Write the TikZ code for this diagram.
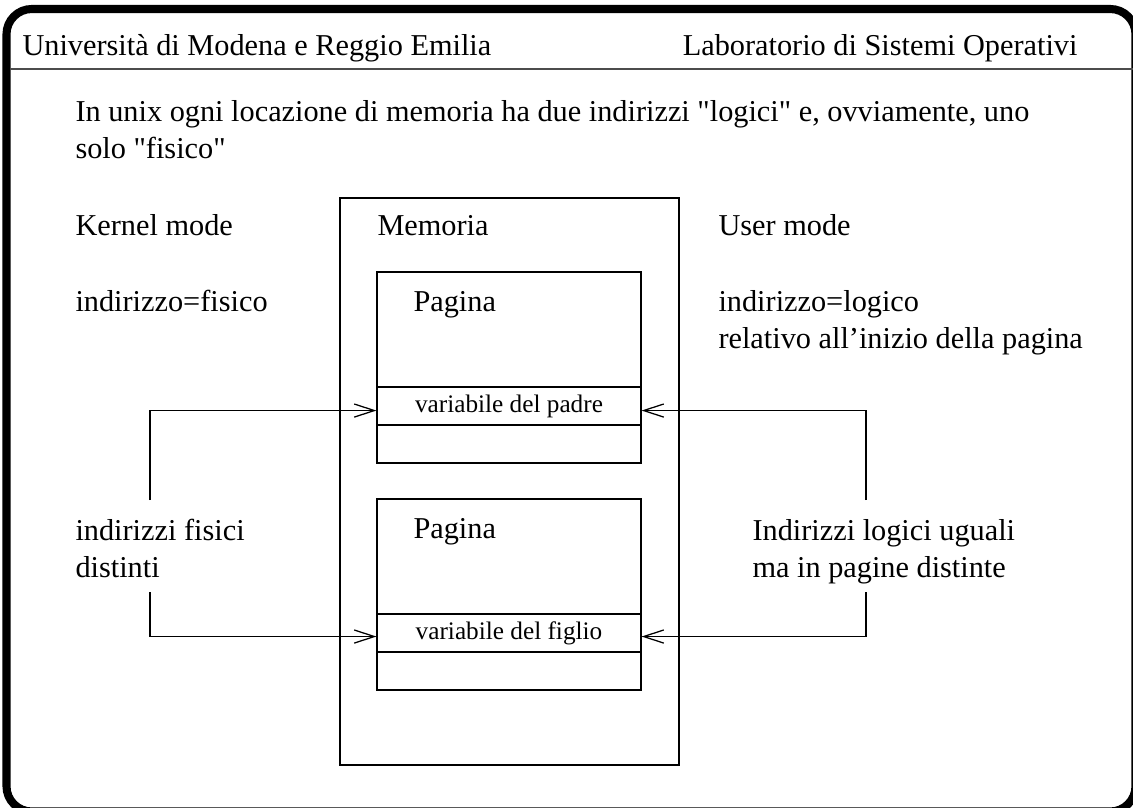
\documentclass[tikz,border=0pt]{standalone}
\usepackage{fontspec}
\setmainfont{Liberation Serif}
\usetikzlibrary{arrows.meta,positioning,calc}

\begin{document}
\begin{tikzpicture}[x=0.396pt,y=-0.396pt,
  txt/.style={anchor=base west,inner sep=0pt,font=\fontsize{12}{14.6}\selectfont,align=left},
  strip/.style={draw,line width=0.5pt,minimum width=104.5pt,minimum height=15pt,inner sep=0pt,font=\fontsize{10}{12}\selectfont},
  arr/.style={-{Straight Barb[length=8pt,width=5.2pt]},line width=0.5pt}]
\useasboundingbox (0,0) rectangle (1133,808);
% frame and header
\draw[line width=3.2pt,rounded corners=10pt] (6.5,9) rectangle (1135.5,811.5);
\draw[black!70,line width=0.6pt] (10,69) -- (1133,69);
\node[txt] (uni) at (22,55) {Università di Modena e Reggio Emilia};
\node[txt,anchor=base east] (lab) at (1078,55) {Laboratorio di Sistemi Operativi};
\node[txt] (intro) at (75,158) {In unix ogni locazione di memoria ha due indirizzi \textquotedbl logici\textquotedbl{} e, ovviamente, uno\\solo \textquotedbl fisico\textquotedbl};
% memoria
\draw[line width=0.5pt] (340,198) rectangle (679,765);
\draw[line width=0.5pt] (377,272) rectangle (641,463);
\draw[line width=0.5pt] (377,499) rectangle (641,690);
\node[txt] (mem) at (377,235) {Memoria};
\node[txt] (pag1) at (413,311) {Pagina};
\node[txt] (pag2) at (413,538) {Pagina};
\node[strip] (padre) at (509,406) {variabile del padre};
\node[strip] (figlio) at (509,633) {variabile del figlio};
% kernel / user
\node[txt] (kern) at (75,235) {Kernel mode};
\node[txt] (kfis) at (75,311) {indirizzo=fisico};
\node[txt] (user) at (718,235) {User mode};
\node[txt] (ulog) at (718,348) {indirizzo=logico\\relativo all'inizio della pagina};
\node[txt] (fisici) at (75,577) {indirizzi fisici\\distinti};
\node[txt] (logici) at (752,577) {Indirizzi logici uguali\\ma in pagine distinte};
% arrows
\coordinate (lk1) at (150,500);
\coordinate (lk2) at (150,592);
\coordinate (rk1) at (866,500);
\coordinate (rk2) at (866,592);
\draw[arr] (lk1) |- ([yshift=-1.8pt]padre.west);
\draw[arr] (lk2) |- ([yshift=-1.4pt]figlio.west);
\draw[arr] (rk1) |- ([yshift=-1.8pt]padre.east);
\draw[arr] (rk2) |- ([yshift=-1.4pt]figlio.east);
\end{tikzpicture}
\end{document}
